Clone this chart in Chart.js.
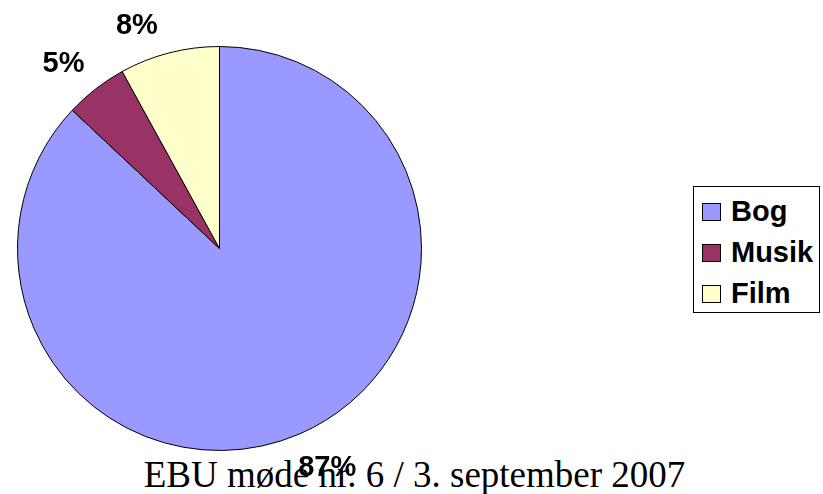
<!DOCTYPE html>
<html>
<head>
<meta charset="utf-8">
<script src="https://cdn.jsdelivr.net/npm/chart.js@4"></script>
<style>
    body { margin: 0; background: #fff; }
    #wrap { position: relative; width: 823px; height: 494px; }
    #myChart { position: relative; z-index: 2; }
    #legend {
        position: absolute; left: 693px; top: 186px; width: 127px; height: 127px;
        box-sizing: border-box; border: 1px solid #000; padding: 4px 0 0 8px;
        font: bold 29px "Liberation Sans", Arial, sans-serif; color: #000;
    }
    #legend .row { display: flex; align-items: center; height: 41px; line-height: 41px; }
    #legend .sw { width: 17px; height: 16px; border: 1px solid #000; margin-right: 10px; }
    #footer {
        position: absolute; left: 0; width: 829px; top: 456px; text-align: center;
        font: 37px "Liberation Serif", "Times New Roman", serif; line-height: 37px; color: #000;
        white-space: nowrap; z-index: 1;
    }
</style>
</head>
<body>
<div id="wrap">
    <div id="footer">EBU møde nr. 6 / 3. september 2007</div>
    <canvas id="myChart"></canvas>
    <div id="legend"></div>
</div>
<script>
const labels = ['Bog', 'Musik', 'Film'];
const values = [87, 5, 8];
const colors = ['#9999FF', '#993366', '#FFFFCC'];

// legend built from the same arrays
const legendEl = document.getElementById('legend');
labels.forEach((l, i) => {
    const row = document.createElement('div');
    row.className = 'row';
    row.innerHTML = '<span class="sw" style="background:' + colors[i] + '"></span><span>' + l + '</span>';
    legendEl.appendChild(row);
});

// percentage labels outside the slices (small per-label nudges, like hand-placed Excel labels)
const labelNudge = [[6, 0], [-4, 4], [-21, 9]];

const pctLabels = {
    id: 'pctLabels',
    afterDatasetsDraw(chart) {
        const ctx = chart.ctx;
        const meta = chart.getDatasetMeta(0);
        const total = values.reduce((a, b) => a + b, 0);
        ctx.save();
        ctx.font = 'bold 29px "Liberation Sans", Arial, sans-serif';
        ctx.fillStyle = '#000';
        ctx.textAlign = 'center';
        ctx.textBaseline = 'middle';
        meta.data.forEach((arc, i) => {
            const p = arc.getProps(['x', 'y', 'startAngle', 'endAngle', 'outerRadius'], true);
            const a = (p.startAngle + p.endAngle) / 2;
            const txt = Math.round(values[i] / total * 100) + '%';
            const w = ctx.measureText(txt).width;
            const r = p.outerRadius + 25;
            const x = p.x + Math.cos(a) * r + Math.cos(a) * w / 2 + labelNudge[i][0];
            const y = p.y + Math.sin(a) * r + Math.sin(a) * 12 + labelNudge[i][1];
            ctx.fillText(txt, x, y);
        });
        ctx.restore();
    }
};

const data = {
    labels: labels,
    datasets: [{
        data: values,
        backgroundColor: colors,
        borderColor: '#000',
        borderWidth: 1,
    }]
};

const config = {
    type: 'pie',
    data: data,
    options: {
        responsive: true,
        maintainAspectRatio: false,
        animation: false,
        layout: { padding: { left: 17, top: 46, right: 401, bottom: 43 } },
        plugins: {
            legend: { display: false },
            tooltip: { enabled: false }
        }
    },
    plugins: [pctLabels]
};

const myChart = new Chart(document.getElementById('myChart'), config);
</script>
</body>
</html>
